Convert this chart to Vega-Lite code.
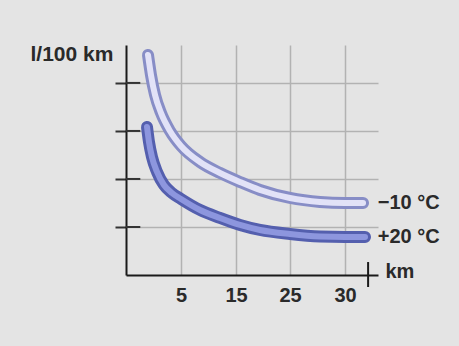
{
  "$schema": "https://vega.github.io/schema/vega-lite/v6.json",
  "width": 252,
  "height": 230,
  "autosize": {"type": "none"},
  "padding": {"left": 126, "top": 45, "right": 81, "bottom": 71},
  "background": "#e4e4e4",
  "config": {
    "view": {"stroke": null},
    "font": "Liberation Sans",
    "axis": {"labelFont": "Liberation Sans", "titleFont": "Liberation Sans"}
  },
  "datasets": {
    "curves": [
      {"series": "-10", "km": 2.0, "v": 4.583},
      {"series": "-10", "km": 2.27, "v": 4.167},
      {"series": "-10", "km": 2.64, "v": 3.75},
      {"series": "-10", "km": 3.18, "v": 3.375},
      {"series": "-10", "km": 4.0, "v": 3.0},
      {"series": "-10", "km": 5.0, "v": 2.688},
      {"series": "-10", "km": 8.45, "v": 2.354},
      {"series": "-10", "km": 12.09, "v": 2.125},
      {"series": "-10", "km": 15.74, "v": 1.938},
      {"series": "-10", "km": 19.44, "v": 1.771},
      {"series": "-10", "km": 25, "v": 1.604},
      {"series": "-10", "km": 27.73, "v": 1.521},
      {"series": "-10", "km": 30, "v": 1.5},
      {"series": "-10", "km": 31.64, "v": 1.5},
      {"series": "+20", "km": 1.91, "v": 3.083},
      {"series": "+20", "km": 2.09, "v": 2.771},
      {"series": "+20", "km": 2.36, "v": 2.458},
      {"series": "+20", "km": 2.82, "v": 2.146},
      {"series": "+20", "km": 3.45, "v": 1.875},
      {"series": "+20", "km": 4.18, "v": 1.708},
      {"series": "+20", "km": 5.0, "v": 1.583},
      {"series": "+20", "km": 8.45, "v": 1.354},
      {"series": "+20", "km": 12.09, "v": 1.188},
      {"series": "+20", "km": 15.74, "v": 1.042},
      {"series": "+20", "km": 19.44, "v": 0.938},
      {"series": "+20", "km": 25, "v": 0.854},
      {"series": "+20", "km": 27.73, "v": 0.802},
      {"series": "+20", "km": 30, "v": 0.792},
      {"series": "+20", "km": 31.82, "v": 0.792}
    ],
    "ticks": [{"v": 1}, {"v": 2}, {"v": 3}, {"v": 4}],
    "labels": [
      {"label": "−10 °C", "km": 31.8, "v": 1.5},
      {"label": "+20 °C", "km": 31.8, "v": 0.792}
    ]
  },
  "layer": [
    {
      "data": {"name": "ticks"},
      "mark": {"type": "rule", "color": "#333333", "strokeWidth": 2},
      "encoding": {
        "y": {"field": "v", "type": "quantitative",
          "scale": {"domain": [0, 4.79], "nice": false, "zero": true},
          "axis": {
            "values": [1, 2, 3, 4], "labels": false,
            "ticks": true, "tickSize": 11, "tickWidth": 2, "tickColor": "#333333",
            "grid": true, "gridColor": "#b2b2b2", "gridWidth": 1.5,
            "domain": true, "domainColor": "#1a1a1a", "domainWidth": 2,
            "title": "l/100 km", "titleAngle": 0, "titleX": -96, "titleY": 15,
            "titleAlign": "left", "titleBaseline": "alphabetic",
            "titleFontSize": 21, "titleFontWeight": "bold", "titleColor": "#2a2a2a"
          }
        },
        "x": {"datum": 0, "type": "quantitative",
          "scale": {"domain": [0, 5, 15, 25, 30, 33], "range": [0, 55, 110, 164, 219, 252], "nice": false},
          "axis": {
            "values": [5, 15, 25, 30], "ticks": false,
            "labelFontSize": 20, "labelFontWeight": "bold", "labelColor": "#2a2a2a", "labelPadding": 10,
            "grid": true, "gridColor": "#b2b2b2", "gridWidth": 1.5,
            "domain": true, "domainColor": "#1a1a1a", "domainWidth": 2,
            "title": "km", "titleX": 259, "titleY": 2, "titleAlign": "left", "titleBaseline": "alphabetic",
            "titleFontSize": 20, "titleFontWeight": "bold", "titleColor": "#2a2a2a"
          }
        },
        "x2": {"datum": 1.3}
      }
    },
    {
      "data": {"values": [{"v0": -0.25, "v1": 0.27}]},
      "mark": {"type": "rule", "color": "#1a1a1a", "strokeWidth": 2, "clip": false},
      "encoding": {
        "x": {"datum": 32.1, "type": "quantitative"},
        "y": {"field": "v0", "type": "quantitative"},
        "y2": {"field": "v1"}
      }
    },
    {
      "data": {"name": "curves"},
      "transform": [{"filter": "datum.series == '-10'"}],
      "mark": {"type": "line", "color": "#878dc6", "strokeWidth": 12, "strokeCap": "round", "interpolate": "monotone"},
      "encoding": {
        "x": {"field": "km", "type": "quantitative"},
        "y": {"field": "v", "type": "quantitative"}
      }
    },
    {
      "data": {"name": "curves"},
      "transform": [{"filter": "datum.series == '-10'"}],
      "mark": {"type": "line", "color": "#e2e2f7", "strokeWidth": 6, "strokeCap": "round", "interpolate": "monotone"},
      "encoding": {
        "x": {"field": "km", "type": "quantitative"},
        "y": {"field": "v", "type": "quantitative"}
      }
    },
    {
      "data": {"name": "curves"},
      "transform": [{"filter": "datum.series == '+20'"}],
      "mark": {"type": "line", "color": "#545fae", "strokeWidth": 12, "strokeCap": "round", "interpolate": "monotone"},
      "encoding": {
        "x": {"field": "km", "type": "quantitative"},
        "y": {"field": "v", "type": "quantitative"}
      }
    },
    {
      "data": {"name": "curves"},
      "transform": [{"filter": "datum.series == '+20'"}],
      "mark": {"type": "line", "color": "#8d96de", "strokeWidth": 6, "strokeCap": "round", "interpolate": "monotone"},
      "encoding": {
        "x": {"field": "km", "type": "quantitative"},
        "y": {"field": "v", "type": "quantitative"}
      }
    },
    {
      "data": {"name": "labels"},
      "mark": {"type": "text", "align": "left", "baseline": "middle", "dx": 13, "fontSize": 20, "fontWeight": "bold", "color": "#2a2a2a", "clip": false},
      "encoding": {
        "x": {"field": "km", "type": "quantitative"},
        "y": {"field": "v", "type": "quantitative"},
        "text": {"field": "label"}
      }
    }
  ]
}
